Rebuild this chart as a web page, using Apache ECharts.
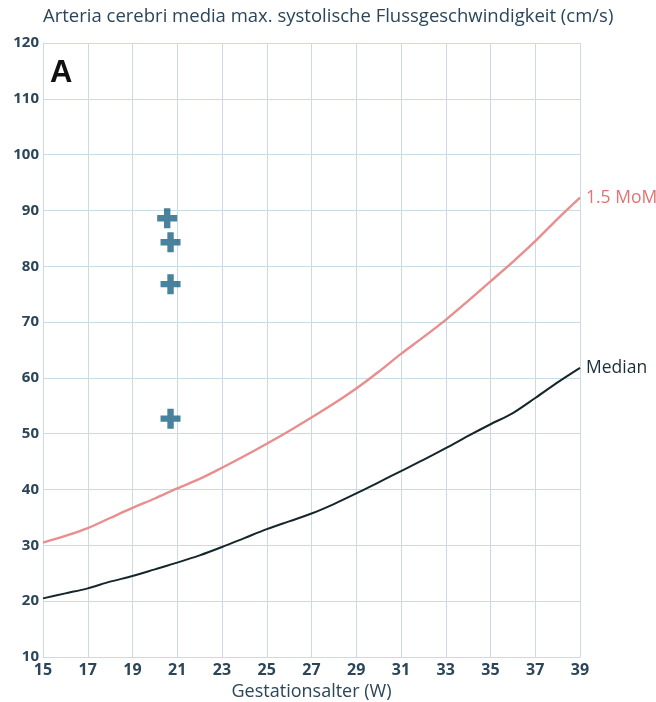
<!DOCTYPE html>
<html><head><meta charset="utf-8">
<script src="https://cdn.jsdelivr.net/npm/echarts@6/dist/echarts.min.js"></script>
<style>html,body{margin:0;padding:0;background:#fff}#c{width:656px;height:702px}</style>
</head><body><div id="c"></div>
<script>
const weeks = [15,16,17,18,19,20,21,22,23,24,25,26,27,28,29,30,31,32,33,34,35,36,37,38,39];
const medianValues = [20.5,21.4,22.3,23.5,24.5,25.7,26.9,28.2,29.7,31.3,32.9,34.3,35.7,37.4,39.3,41.3,43.3,45.3,47.4,49.6,51.7,53.7,56.4,59.2,61.8];
const momValues = [30.5,31.7,33.1,34.9,36.7,38.4,40.2,41.9,43.9,46.0,48.2,50.5,52.9,55.4,58.1,61.1,64.3,67.3,70.4,73.8,77.3,80.8,84.5,88.5,92.3];
const patientWeeks = [20.55,20.7,20.7,20.7];
const patientValues = [88.6,84.3,76.8,52.7];
const xTicks = [15,17,19,21,23,25,27,29,31,33,35,37,39];
const yTicks = [10,20,30,40,50,60,70,80,90,100,110,120];

const chart = echarts.init(document.getElementById('c'));
const labelColor = '#2b4559';
const gridColor = '#cadbe3';
const plusPath = 'path://M34,0 H66 V34 H100 V66 H66 V100 H34 V66 H0 V34 H34 Z';
chart.setOption({
  animation:false,
  backgroundColor:'#ffffff',
  title:[{
    text:'Arteria cerebri media max. systolische Flussgeschwindigkeit (cm/s)',
    left:43, top:7, padding:0,
    textStyle:{fontFamily:'Open Sans', fontSize:18.5, fontWeight:'normal', color:labelColor}
  },{
    text:'A', left:50, top:58, padding:0,
    textStyle:{fontFamily:'Liberation Sans', fontSize:31, fontWeight:'bold', color:'#111'}
  }],
  grid:{left:43, right:76, top:43, bottom:45, containLabel:false, outerBoundsMode:'none'},
  xAxis:{
    type:'value', min:15, max:39, interval:2,
    name:'Gestationsalter (W)', nameLocation:'middle', nameGap:24,
    nameTextStyle:{fontFamily:'Open Sans', fontSize:18, color:labelColor},
    axisLine:{show:true, lineStyle:{color:gridColor}},
    axisTick:{show:false},
    axisLabel:{margin:5, fontFamily:'Open Sans', fontSize:16, fontWeight:'bold', color:labelColor,
      formatter:v=>xTicks.includes(v)?String(v):''},
    splitLine:{show:true, lineStyle:{color:gridColor, width:1}}
  },
  yAxis:{
    type:'value', min:10, max:120, interval:10,
    axisLine:{show:true, lineStyle:{color:gridColor}},
    axisTick:{show:false},
    axisLabel:{margin:4, fontFamily:'Open Sans', fontSize:15, fontWeight:'bold', color:labelColor,
      formatter:v=>yTicks.includes(v)?String(v):''},
    splitLine:{show:true, lineStyle:{color:gridColor, width:1}}
  },
  series:[{
    name:'1.5 MoM', type:'line', data:weeks.map((w,i)=>[w,momValues[i]]),
    symbol:'none', smooth:0.3, lineStyle:{color:'#e98e8e', width:2.4},
    endLabel:{show:true, formatter:'1.5 MoM', color:'#e07474', fontFamily:'Open Sans', fontSize:17.5, distance:6, offset:[0,0]}
  },{
    name:'Median', type:'line', data:weeks.map((w,i)=>[w,medianValues[i]]),
    symbol:'none', smooth:0.3, lineStyle:{color:'#15262a', width:2},
    endLabel:{show:true, formatter:'Median', color:'#1c2e3a', fontFamily:'Open Sans', fontSize:17.5, distance:6, offset:[0,0]}
  },{
    name:'Patient', type:'scatter', data:patientWeeks.map((w,i)=>[w,patientValues[i]]),
    symbol:plusPath, symbolSize:20, itemStyle:{color:'#1a6385'}
  }]
});
</script></body></html>
